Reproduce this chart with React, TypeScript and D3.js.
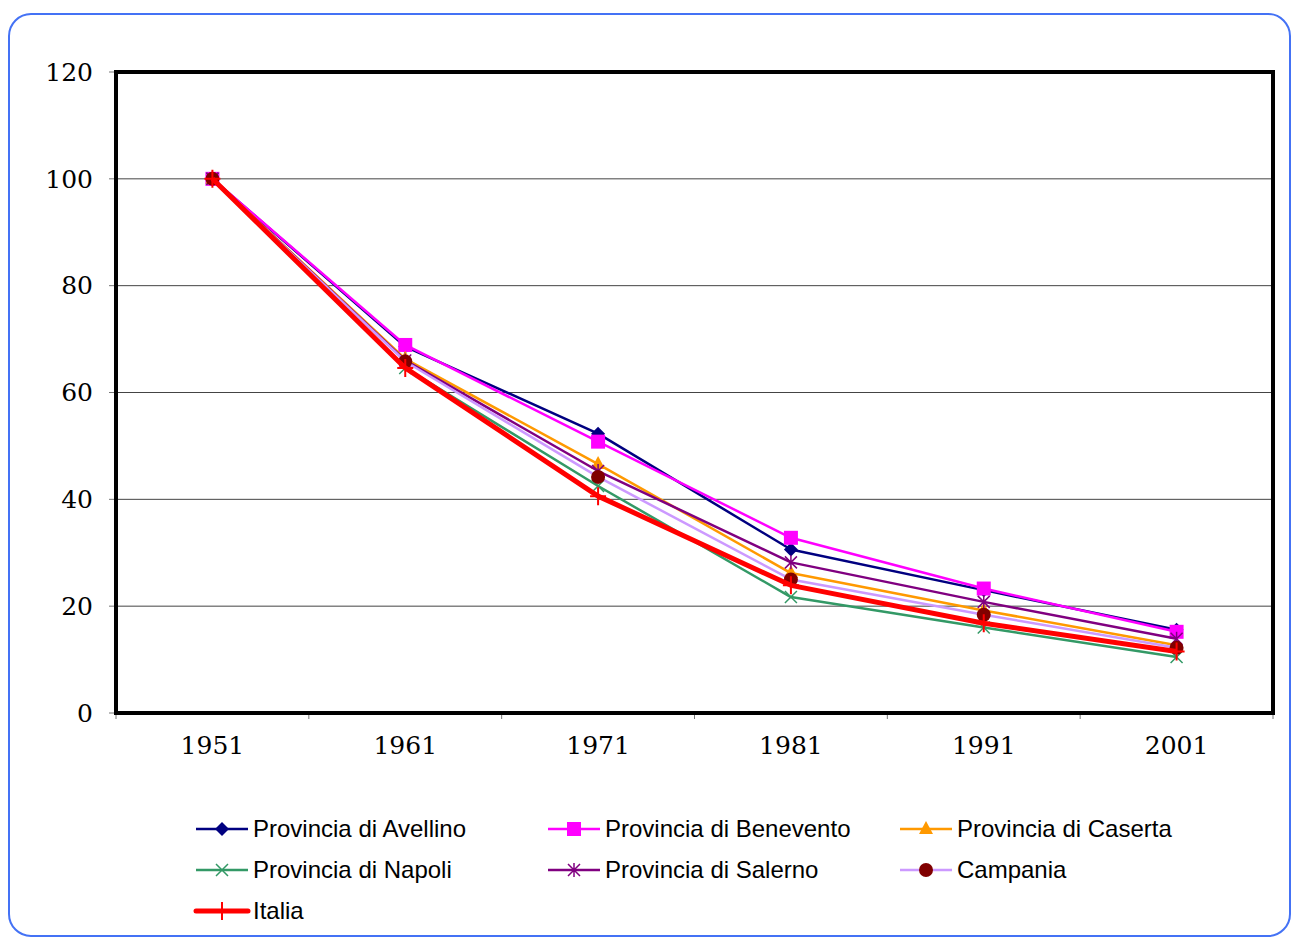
import { useEffect, useRef } from "react";
import * as d3 from "d3";

const years = ["1951", "1961", "1971", "1981", "1991", "2001"];
const yTicks = [0, 20, 40, 60, 80, 100, 120];

const seriesNames = [
    "Provincia di Avellino",
    "Provincia di Benevento",
    "Provincia di Caserta",
    "Provincia di Napoli",
    "Provincia di Salerno",
    "Campania",
    "Italia",
];

const avellino = [100, 68.6, 52.3, 30.6, 23.0, 15.6];
const benevento = [100, 68.9, 50.8, 32.8, 23.3, 15.2];
const caserta = [100, 66.3, 46.6, 26.2, 19.2, 12.7];
const napoli = [100, 64.6, 42.5, 21.7, 16.0, 10.5];
const salerno = [100, 66.0, 45.3, 28.2, 20.8, 13.9];
const campania = [100, 65.8, 44.2, 25.0, 18.4, 12.2];
const italia = [100, 64.6, 40.6, 23.9, 16.8, 11.5];

const values = [avellino, benevento, caserta, napoli, salerno, campania, italia];
const lineColors = ["#000080", "#ff00ff", "#ff9900", "#339966", "#800080", "#cc99ff", "#ff0000"];
const markerColors = ["#000080", "#ff00ff", "#ff9900", "#339966", "#800080", "#800000", "#ff0000"];
const markerTypes = ["diamond", "square", "triangle", "x", "star", "circle", "plus"];

function drawMarker(g: any, type: string, cx: number, cy: number, color: string) {
    if (type === "diamond") {
        g.append("path")
            .attr("d", `M${cx},${cy - 7}L${cx + 7},${cy}L${cx},${cy + 7}L${cx - 7},${cy}Z`)
            .attr("fill", color);
    } else if (type === "square") {
        g.append("rect")
            .attr("x", cx - 7).attr("y", cy - 7)
            .attr("width", 14).attr("height", 14)
            .attr("fill", color);
    } else if (type === "triangle") {
        g.append("path")
            .attr("d", `M${cx},${cy - 8}L${cx + 7},${cy + 5}L${cx - 7},${cy + 5}Z`)
            .attr("fill", color);
    } else if (type === "circle") {
        g.append("circle").attr("cx", cx).attr("cy", cy).attr("r", 7).attr("fill", color);
    } else if (type === "x") {
        g.append("path")
            .attr("d", `M${cx - 6},${cy - 6}L${cx + 6},${cy + 6}M${cx - 6},${cy + 6}L${cx + 6},${cy - 6}`)
            .attr("stroke", color).attr("stroke-width", 1.5);
    } else if (type === "star") {
        g.append("path")
            .attr("d", `M${cx - 6},${cy - 6}L${cx + 6},${cy + 6}M${cx - 6},${cy + 6}L${cx + 6},${cy - 6}M${cx},${cy - 7}L${cx},${cy + 7}`)
            .attr("stroke", color).attr("stroke-width", 1.5);
    } else if (type === "plus") {
        g.append("path")
            .attr("d", `M${cx - 8},${cy}L${cx + 8},${cy}M${cx},${cy - 9}L${cx},${cy + 9}`)
            .attr("stroke", color).attr("stroke-width", 2);
    }
}

export default function App() {
    const svgRef = useRef<SVGSVGElement>(null);

    useEffect(() => {
        if (!svgRef.current) return;
        const svg = d3.select(svgRef.current);
        svg.selectAll("*").remove();

        // Outer frame
        svg.append("rect")
            .attr("x", 9).attr("y", 14)
            .attr("width", 1281).attr("height", 922)
            .attr("rx", 22)
            .attr("fill", "white")
            .attr("stroke", "#4472f5")
            .attr("stroke-width", 2);

        const left = 116, right = 1273, top = 72, bottom = 713;

        const x = d3.scaleBand().domain(years).range([left, right]);
        const y = d3.scaleLinear().domain([0, 120]).range([bottom, top]);

        // Gridlines
        svg.append("g")
            .selectAll("line")
            .data(yTicks.filter((t) => t > 0 && t < 120))
            .join("line")
            .attr("x1", left).attr("x2", right)
            .attr("y1", (d) => y(d)).attr("y2", (d) => y(d))
            .attr("stroke", "#444")
            .attr("stroke-width", 1);

        // Axis ticks
        svg.append("g")
            .selectAll("line")
            .data(yTicks)
            .join("line")
            .attr("x1", left - 7).attr("x2", left)
            .attr("y1", (d) => y(d)).attr("y2", (d) => y(d))
            .attr("stroke", "#777");

        const xBounds = years.map((yr) => (x(yr) as number) + x.bandwidth()).concat([left]);
        svg.append("g")
            .selectAll("line")
            .data(xBounds)
            .join("line")
            .attr("x1", (d) => d).attr("x2", (d) => d)
            .attr("y1", bottom).attr("y2", bottom + 6)
            .attr("stroke", "#777");

        // Plot frame
        svg.append("rect")
            .attr("x", left).attr("y", top)
            .attr("width", right - left).attr("height", bottom - top)
            .attr("fill", "none")
            .attr("stroke", "black")
            .attr("stroke-width", 4);

        // Tick labels
        svg.append("g")
            .selectAll("text")
            .data(yTicks)
            .join("text")
            .attr("x", 93)
            .attr("y", (d) => y(d))
            .attr("dy", "0.35em")
            .attr("text-anchor", "end")
            .attr("font-family", "DejaVu Serif")
            .attr("font-size", 25)
            .text((d) => d);

        svg.append("g")
            .selectAll("text")
            .data(years)
            .join("text")
            .attr("x", (d) => (x(d) as number) + x.bandwidth() / 2)
            .attr("y", 745)
            .attr("dy", "0.35em")
            .attr("text-anchor", "middle")
            .attr("font-family", "DejaVu Serif")
            .attr("font-size", 25)
            .text((d) => d);

        // Series
        const line = d3.line<number>()
            .x((_, i) => (x(years[i]) as number) + x.bandwidth() / 2)
            .y((d) => y(d));

        values.forEach((vals, si) => {
            const g = svg.append("g");
            g.append("path")
                .datum(vals)
                .attr("fill", "none")
                .attr("stroke", lineColors[si])
                .attr("stroke-width", si === 6 ? 5 : 2.5)
                .attr("stroke-linejoin", "round")
                .attr("d", line);
            vals.forEach((v, i) => {
                drawMarker(g, markerTypes[si], (x(years[i]) as number) + x.bandwidth() / 2, y(v), markerColors[si]);
            });
        });

        // Legend
        const colX = [196, 548, 900];
        const rowY = [829, 870, 911];
        seriesNames.forEach((name, si) => {
            const cx = colX[si % 3];
            const cy = rowY[Math.floor(si / 3)];
            const g = svg.append("g");
            g.append("line")
                .attr("x1", cx).attr("x2", cx + 52)
                .attr("y1", cy).attr("y2", cy)
                .attr("stroke", lineColors[si])
                .attr("stroke-width", si === 6 ? 5 : 2.5)
                .attr("stroke-linecap", si === 6 ? "round" : "butt");
            drawMarker(g, markerTypes[si], cx + 26, cy, markerColors[si]);
            g.append("text")
                .attr("x", cx + 57)
                .attr("y", cy)
                .attr("dy", "0.35em")
                .attr("font-family", "Liberation Sans, Arial, sans-serif")
                .attr("font-size", 24)
                .text(name);
        });
    }, []);

    return (
        <svg
            ref={svgRef}
            width={1292}
            height={937}
            style={{ position: "absolute", left: 0, top: 0, display: "block" }}
        />
    );
}
